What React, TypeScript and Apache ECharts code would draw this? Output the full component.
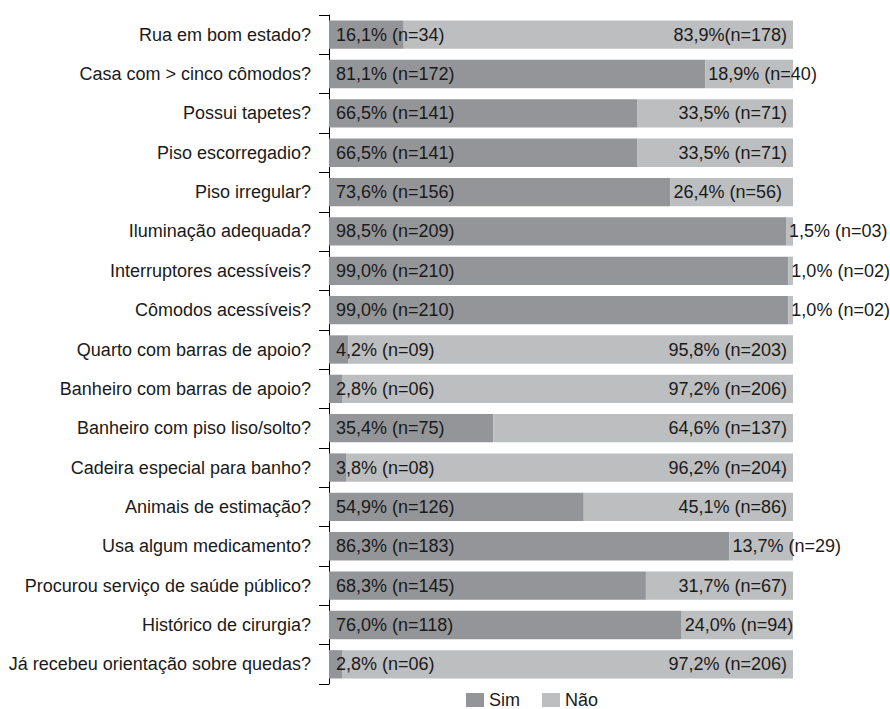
import React, { useEffect, useRef } from "react";
import * as echarts from "echarts";

const categories = [
  "Rua em bom estado?",
  "Casa com > cinco cômodos?",
  "Possui tapetes?",
  "Piso escorregadio?",
  "Piso irregular?",
  "Iluminação adequada?",
  "Interruptores acessíveis?",
  "Cômodos acessíveis?",
  "Quarto com barras de apoio?",
  "Banheiro com barras de apoio?",
  "Banheiro com piso liso/solto?",
  "Cadeira especial para banho?",
  "Animais de estimação?",
  "Usa algum medicamento?",
  "Procurou serviço de saúde público?",
  "Histórico de cirurgia?",
  "Já recebeu orientação sobre quedas?",
];

const simValues = [16.1, 81.1, 66.5, 66.5, 73.6, 98.5, 99.0, 99.0, 4.2, 2.8, 35.4, 3.8, 54.9, 86.3, 68.3, 76.0, 2.8];
const naoValues = [83.9, 18.9, 33.5, 33.5, 26.4, 1.5, 1.0, 1.0, 95.8, 97.2, 64.6, 96.2, 45.1, 13.7, 31.7, 24.0, 97.2];

const simLabels = [
  "16,1% (n=34)", "81,1% (n=172)", "66,5% (n=141)", "66,5% (n=141)", "73,6% (n=156)",
  "98,5% (n=209)", "99,0% (n=210)", "99,0% (n=210)", "4,2% (n=09)", "2,8% (n=06)",
  "35,4% (n=75)", "3,8% (n=08)", "54,9% (n=126)", "86,3% (n=183)", "68,3% (n=145)",
  "76,0% (n=118)", "2,8% (n=06)",
];
const naoLabels = [
  "83,9%(n=178)", "18,9% (n=40)", "33,5% (n=71)", "33,5% (n=71)", "26,4% (n=56)",
  "1,5% (n=03)", "1,0% (n=02)", "1,0% (n=02)", "95,8% (n=203)", "97,2% (n=206)",
  "64,6% (n=137)", "96,2% (n=204)", "45,1% (n=86)", "13,7% (n=29)", "31,7% (n=67)",
  "24,0% (n=94)", "97,2% (n=206)",
];

const FONT = "'Liberation Sans', Arial, sans-serif";
const FS = 18;
const TXT = "#1a1a1a";

export default function App() {
  const ref = useRef<HTMLDivElement>(null);
  useEffect(() => {
    if (!ref.current) return;
    document.body.style.margin = "0";
    const chart = echarts.init(ref.current, undefined, { renderer: "svg" });
    chart.setOption({
      animation: false,
      textStyle: { fontFamily: FONT },
      grid: { left: 329, right: 97, top: 15, bottom: 25, containLabel: false },
      legend: {
        left: 466,
        top: 691,
        padding: 0,
        itemWidth: 18,
        itemHeight: 14,
        itemGap: 22,
        icon: "rect",
        textStyle: { fontSize: FS, color: TXT, fontFamily: FONT },
        data: ["Sim", "Não"],
      },
      xAxis: { type: "value", min: 0, max: 100, show: false },
      yAxis: {
        type: "category",
        data: categories,
        inverse: true,
        axisLine: { show: true, lineStyle: { color: "#000", width: 1 } },
        axisTick: { show: true, length: 10, lineStyle: { color: "#000" } },
        axisLabel: { margin: 18, fontSize: FS, color: TXT, fontFamily: FONT },
      },
      series: [
        {
          name: "Sim",
          type: "bar",
          stack: "t",
          barCategoryGap: "28%",
          itemStyle: { color: "#939598" },
          data: simValues.map((v, i) => ({ value: v, label: { formatter: simLabels[i] } })),
          label: {
            show: true,
            position: "insideLeft",
            distance: 7,
            fontSize: FS,
            color: TXT,
            fontFamily: FONT,
          },
        },
        {
          name: "Não",
          type: "bar",
          stack: "t",
          itemStyle: { color: "#bcbec0" },
          data: naoValues.map((v, i) => ({
            value: v,
            label: {
              formatter: naoLabels[i],
              position: v < 28 ? "insideLeft" : "insideRight",
              distance: v < 28 ? 3 : 6,
            },
          })),
          label: {
            show: true,
            fontSize: FS,
            color: TXT,
            fontFamily: FONT,
          },
        },
      ],
    });
    return () => chart.dispose();
  }, []);
  return <div ref={ref} style={{ width: 890, height: 709 }} />;
}
